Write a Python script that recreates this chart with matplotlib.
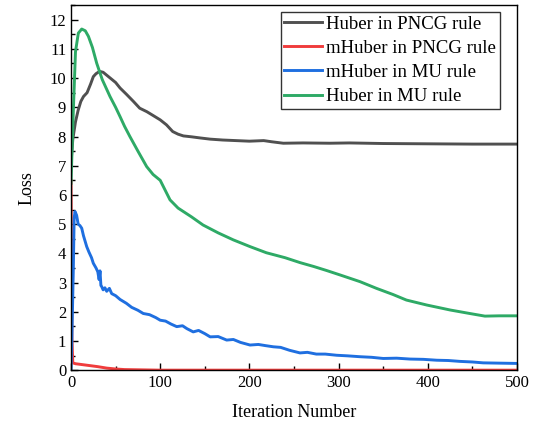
import matplotlib
matplotlib.use("Agg")
import matplotlib.pyplot as plt
from matplotlib.ticker import MultipleLocator

plt.rcParams['font.family'] = ['Liberation Serif', 'DejaVu Serif']
plt.rcParams['mathtext.fontset'] = 'stix'

# Huber in PNCG rule
x_black = [0, 2, 5, 8, 11, 14, 18, 22, 25, 28, 32, 36, 42, 50, 55, 62, 70, 77, 85, 92,
           100, 107, 114, 120, 126, 135, 145, 156, 170, 185, 200, 208, 216, 225, 238,
           260, 290, 312, 350, 400, 450, 500]
y_black = [7.1, 7.9, 8.5, 8.9, 9.2, 9.37, 9.5, 9.8, 10.05, 10.15, 10.23, 10.2, 10.05, 9.85,
           9.66, 9.45, 9.2, 8.97, 8.85, 8.72, 8.57, 8.4, 8.17, 8.08, 8.02, 7.99, 7.95,
           7.91, 7.88, 7.86, 7.84, 7.85, 7.86, 7.82, 7.77, 7.78, 7.77, 7.78, 7.76, 7.75,
           7.74, 7.74]

# mHuber in PNCG rule
x_red = [0, 1, 2, 5, 10, 20, 30, 40, 50, 60, 80, 100, 200, 300, 400, 500]
y_red = [6.5, 1.1, 0.25, 0.22, 0.2, 0.16, 0.12, 0.07, 0.04, 0.02, 0.01, 0.0, 0.0, 0.0, 0.0, 0.0]

# mHuber in MU rule
x_blue = [0, 1, 2.6, 3.5, 4.5, 6.3, 8, 10, 12, 14, 17.6, 20, 23, 25, 28, 30, 31.5, 32.5,
          33.5, 34.4, 36, 38, 40, 43, 45.6, 50, 55, 62, 68, 75, 81, 88, 95, 100, 106,
          112, 118.5, 125, 130, 137, 143, 150, 156, 165, 174.5, 182, 190, 200.7, 210,
          218, 226.8, 235, 245, 256.7, 265, 275, 285, 297.8, 310, 324, 337, 350, 365,
          380, 395, 410, 423, 436, 450, 462, 480, 500]
y_blue = [0.0, 1.14, 3.5, 5.2, 5.43, 5.3, 5.0, 4.95, 4.86, 4.6, 4.23, 4.05, 3.85, 3.66,
          3.5, 3.37, 3.1, 3.4, 2.9, 2.86, 2.75, 2.82, 2.7, 2.8, 2.62, 2.55, 2.42, 2.29,
          2.15, 2.05, 1.94, 1.9, 1.8, 1.71, 1.68, 1.58, 1.49, 1.52, 1.42, 1.31, 1.36,
          1.25, 1.14, 1.15, 1.03, 1.05, 0.95, 0.86, 0.88, 0.84, 0.80, 0.78, 0.68, 0.59,
          0.61, 0.55, 0.55, 0.51, 0.49, 0.46, 0.44, 0.40, 0.41, 0.38, 0.37, 0.34, 0.33,
          0.30, 0.28, 0.25, 0.24, 0.23]

# Huber in MU rule
x_green = [0, 2.5, 5, 8.2, 12, 16, 19.5, 24, 28.8, 35, 43.7, 50, 55, 60, 66, 75, 84.8,
           92, 100, 111, 120, 126, 135, 148, 165, 182, 200.7, 219, 240, 257, 272, 286.7,
           301.6, 324, 342.5, 361, 376, 398.8, 425, 447, 464, 480, 500]
y_green = [6.4, 8.8, 10.9, 11.54, 11.68, 11.62, 11.43, 11.05, 10.51, 9.95, 9.37, 9.0,
           8.68, 8.35, 8.0, 7.5, 6.97, 6.7, 6.5, 5.83, 5.55, 5.43, 5.25, 4.97, 4.7, 4.46,
           4.23, 4.02, 3.85, 3.68, 3.55, 3.41, 3.26, 3.03, 2.8, 2.59, 2.40, 2.23, 2.06,
           1.94, 1.85, 1.86, 1.86]

x_ticks = [0, 100, 200, 300, 400, 500]
y_ticks = list(range(0, 13))

fig = plt.figure(figsize=(5.38, 4.24), dpi=100)
ax = fig.add_axes([0.132, 0.127, 0.829, 0.861])

lw = 2.1
ax.plot(x_black, y_black, color='#505050', lw=lw, label='Huber in PNCG rule')
ax.plot(x_red, y_red, color='#F03C3C', lw=lw, label='mHuber in PNCG rule')
ax.plot(x_blue, y_blue, color='#1F6FE0', lw=lw, label='mHuber in MU rule')
ax.plot(x_green, y_green, color='#2EAA66', lw=lw, label='Huber in MU rule')

ax.set_xlim(0, 500)
ax.set_ylim(0, 12.5)
ax.set_xticks(x_ticks)
ax.set_yticks(y_ticks)
ax.xaxis.set_minor_locator(MultipleLocator(50))
ax.yaxis.set_minor_locator(MultipleLocator(0.5))
ax.tick_params(which='both', direction='in', top=False, right=False, labelsize=12,
               width=1.0)
ax.tick_params(which='major', length=5)
ax.tick_params(which='minor', length=3)
for s in ax.spines.values():
    s.set_linewidth(1.0)

ax.set_xlabel('Iteration Number', fontsize=13, labelpad=9)
ax.set_ylabel('Loss', fontsize=13, labelpad=10)

leg = ax.legend(loc='upper right', bbox_to_anchor=(0.961, 0.981), fontsize=13.5,
                frameon=True, fancybox=False, edgecolor='black', handlelength=2.0,
                handletextpad=0.25, borderpad=0.18, labelspacing=0.38, borderaxespad=0.0)
leg.get_frame().set_linewidth(1.0)

fig.savefig('out.png', dpi=100)
